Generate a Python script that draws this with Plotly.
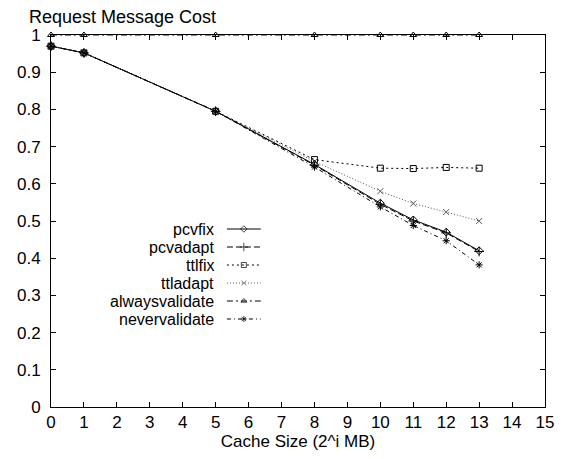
import plotly.graph_objects as go

# ---- data ----
cache_size = [0, 1, 5, 8, 10, 11, 12, 13]
pcvfix = [0.970, 0.952, 0.795, 0.652, 0.548, 0.503, 0.470, 0.420]
pcvadapt = [0.970, 0.952, 0.795, 0.650, 0.545, 0.500, 0.468, 0.418]
ttlfix = [0.970, 0.952, 0.795, 0.665, 0.642, 0.641, 0.644, 0.642]
ttladapt = [0.970, 0.952, 0.795, 0.660, 0.580, 0.547, 0.524, 0.500]
alwaysvalidate = [1.0, 1.0, 1.0, 1.0, 1.0, 1.0, 1.0, 1.0]
nevervalidate = [0.970, 0.952, 0.795, 0.645, 0.538, 0.488, 0.447, 0.382]

series_names = ["pcvfix", "pcvadapt", "ttlfix", "ttladapt", "alwaysvalidate", "nevervalidate"]
series_values = [pcvfix, pcvadapt, ttlfix, ttladapt, alwaysvalidate, nevervalidate]
x_ticks = list(range(0, 16))
y_ticks = [round(i * 0.1, 1) for i in range(0, 11)]
y_tick_labels = ["0", "0.1", "0.2", "0.3", "0.4", "0.5", "0.6", "0.7", "0.8", "0.9", "1"]

# ---- styles ----
styles = {
    "pcvfix": dict(dash="solid", color="#000000", symbol="diamond-open", size=6),
    "pcvadapt": dict(dash="6px,3px", color="#000000", symbol="cross-thin-open", size=7),
    "ttlfix": dict(dash="2px,3px", color="#000000", symbol="square-open", size=6),
    "ttladapt": dict(dash="1px,2px", color="#555555", symbol="x-thin-open", size=6),
    "alwaysvalidate": dict(dash="6px,3px,2px,3px", color="#000000", symbol="triangle-up-open", size=6),
    "nevervalidate": dict(dash="4px,3px,1px,3px", color="#000000", symbol="asterisk-open", size=6),
}

FONT = "Liberation Sans, Arial, Helvetica, sans-serif"
W, H = 566, 459
ML, MR, MT, MB = 51, 18, 35, 52
PW, PH = W - ML - MR, H - MT - MB

fig = go.Figure()
for name, vals in zip(series_names, series_values):
    s = styles[name]
    fig.add_trace(go.Scatter(
        x=cache_size, y=vals, name=name, mode="lines+markers",
        line=dict(color=s["color"], width=1, dash=s["dash"]),
        marker=dict(symbol=s["symbol"], size=s["size"], color=s["color"],
                    line=dict(color=s["color"], width=1)),
        cliponaxis=False, showlegend=False,
    ))

# ---- custom legend (text right-aligned, sample line to the right) ----
legend_text_right = 217   # px from left of figure
legend_sample = (228, 262)
legend_top = 229
legend_step = 18
annotations = []
for i, name in enumerate(series_names):
    s = styles[name]
    ypx = legend_top + i * legend_step
    yy = PH - (ypx - MT)
    x0, x1 = legend_sample[0] - ML, legend_sample[1] - ML
    fig.add_trace(go.Scatter(
        x=[x0, (x0 + x1) / 2, x1], y=[yy, yy, yy], mode="lines+markers",
        line=dict(color=s["color"], width=1, dash=s["dash"]),
        marker=dict(symbol=s["symbol"], size=[0, s["size"] - 1, 0], color=s["color"],
                    line=dict(color=s["color"], width=1)),
        xaxis="x2", yaxis="y2", showlegend=False, hoverinfo="skip",
    ))
    annotations.append(dict(
        text=name, xref="x2", yref="y2", x=legend_text_right - ML, y=yy,
        xanchor="right", yanchor="middle", showarrow=False,
        font=dict(family=FONT, size=16, color="#000000"),
    ))

annotations.append(dict(
    text="Request Message Cost", xref="paper", yref="paper",
    x=(27 - ML) / PW, y=1 + (MT - 17) / PH, xanchor="left", yanchor="middle",
    showarrow=False, font=dict(family=FONT, size=18, color="#000000"),
))

fig.update_layout(
    width=W, height=H,
    margin=dict(l=ML, r=MR, t=MT, b=MB, pad=0),
    paper_bgcolor="white", plot_bgcolor="white",
    font=dict(family=FONT, size=17, color="#000000"),
    annotations=annotations,
    xaxis=dict(
        range=[0, 15], tickvals=x_ticks, ticktext=[str(v) for v in x_ticks],
        ticks="inside", ticklen=5, tickcolor="#000000", tickwidth=1,
        showline=True, linecolor="#000000", linewidth=1, mirror="ticks",
        showgrid=False, zeroline=False,
        title=dict(text="Cache Size (2^i MB)", standoff=0, font=dict(family=FONT, size=17)),
        tickfont=dict(family=FONT, size=17),
    ),
    yaxis=dict(
        range=[0, 1], tickvals=y_ticks, ticktext=y_tick_labels,
        ticks="inside", ticklen=5, tickcolor="#000000", tickwidth=1,
        showline=True, linecolor="#000000", linewidth=1, mirror="ticks",
        showgrid=False, zeroline=False, ticklabelstandoff=6,
        tickfont=dict(family=FONT, size=17),
    ),
    xaxis2=dict(range=[0, PW], overlaying="x", visible=False, fixedrange=True),
    yaxis2=dict(range=[0, PH], overlaying="y", visible=False, fixedrange=True),
    showlegend=False,
)

fig.write_html("out.html")
